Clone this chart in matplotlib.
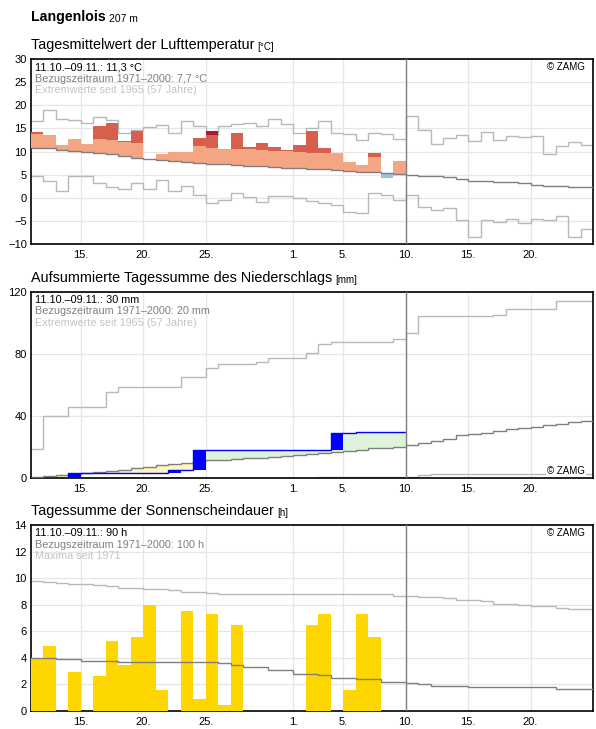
import numpy as np
import matplotlib.pyplot as plt

plt.rcParams['font.family'] = ['Liberation Sans', 'DejaVu Sans']

# x axis: day index, 0 = 11.10., 45 days shown, 30 days observed
n_obs = 30
n_all = 45
xtick_pos = [4, 9, 14, 21, 25, 30, 35, 40]
xtick_labels = ['15.', '20.', '25.', '1.', '5.', '10.', '15.', '20.']

# --- temperature (daily mean, degC) ---
temp_obs = [14.2, 13.6, 11.5, 12.7, 11.7, 15.5, 16.1, 12.3, 14.4, 8.4,
            9.4, 9.8, 9.9, 12.9, 14.4, 10.6, 14.0, 11.0, 11.9, 11.0,
            10.4, 11.5, 14.4, 10.8, 9.6, 7.8, 7.1, 9.6, 4.2, 8.0]
temp_norm_hi = [13.8, 13.8, 13.5, 13.3, 13.0, 12.7, 12.4, 12.1, 11.9, 11.7,
                11.5, 11.3, 11.2, 11.1, 10.8, 10.7, 10.6, 10.6, 10.4, 10.2,
                10.2, 10.0, 9.7, 9.6, 9.6, 9.3, 9.1, 8.9, 8.7, 8.5]
temp_mean = [10.7, 10.7, 10.4, 10.1, 9.9, 9.6, 9.4, 9.1, 8.7, 8.4,
             8.2, 7.9, 7.7, 7.5, 7.4, 7.4, 7.1, 6.9, 6.9, 6.6,
             6.4, 6.4, 6.2, 6.2, 6.0, 5.8, 5.6, 5.6, 5.4, 5.2,
             5.0, 4.8, 4.6, 4.4, 4.1, 3.7, 3.7, 3.5, 3.3, 3.1,
             2.8, 2.6, 2.6, 2.4, 2.3]
temp_max = [16.5, 18.9, 17.1, 16.9, 16.1, 17.4, 16.9, 13.9, 14.6, 15.3,
            15.8, 14.1, 16.5, 15.5, 13.6, 15.6, 16.0, 16.2, 15.6, 17.1,
            16.0, 13.9, 15.0, 16.5, 13.9, 13.7, 12.4, 14.1, 13.7, 12.6,
            17.7, 14.7, 11.7, 13.0, 13.6, 12.2, 14.2, 12.4, 13.4, 13.2,
            13.4, 9.5, 11.2, 12.1, 11.5]
temp_min = [4.6, 3.6, 1.5, 4.6, 4.6, 3.2, 2.4, 1.9, 3.2, 1.9,
            3.9, 1.5, 2.6, 0.5, -1.1, -0.4, 1.1, 0.1, -0.9, 0.4,
            0.4, 0.0, -0.6, -1.2, -1.6, -3.0, -3.4, 1.1, 0.5, -0.4,
            0.5, -2.1, -2.7, -2.3, -4.9, -8.5, -4.9, -5.3, -4.5, -5.5,
            -4.7, -4.9, -4.0, -8.5, -6.8]

# --- precipitation (mm) ---
precip_daily = [0, 0, 0, 3.1, 0, 0, 0, 0, 0, 0,
                0, 1.8, 0, 12.9, 0, 0, 0, 0, 0, 0,
                0, 0, 0, 0, 11.2, 0, 0.5, 0, 0, 0]
precip_mean = [0.6, 1.5, 2.2, 2.8, 3.4, 3.6, 4.7, 5.4, 6.2, 7.1,
               8.2, 9.0, 9.7, 10.8, 11.4, 11.8, 12.3, 12.7, 13.1, 13.5,
               14.2, 14.8, 15.7, 16.3, 16.8, 17.6, 18.3, 19.1, 19.6, 20.2,
               21.3, 22.6, 23.7, 25.4, 27.5, 28.2, 29.0, 30.3, 31.4, 32.0,
               32.9, 34.0, 35.1, 36.3, 37.0]
precip_max = [18.9, 40.2, 40.2, 46.0, 46.0, 46.0, 55.7, 58.9, 58.9, 58.9,
              58.9, 58.9, 65.4, 65.4, 71.2, 73.3, 73.3, 73.3, 75.1, 77.2,
              77.2, 77.2, 80.9, 86.7, 88.0, 88.0, 88.0, 88.0, 88.0, 89.9,
              93.8, 104.3, 104.3, 104.3, 104.3, 104.3, 104.3, 105.4, 109.2, 109.2,
              109.2, 109.2, 114.0, 114.0, 114.0]
precip_min = [0, 0, 0, 0, 0, 0, 0, 0, 0, 0,
              0, 0, 0, 0, 0, 0, 0, 0, 0, 0,
              0, 0, 0, 0.5, 0.5, 0.5, 0.5, 0.5, 0.5, 0.5,
              0.5, 2.2, 2.8, 2.8, 2.8, 2.8, 2.8, 2.8, 2.8, 2.8,
              2.8, 2.8, 2.8, 2.8, 2.8]

# --- sunshine (h) ---
sun_obs = [4.0, 4.9, 0, 2.9, 0, 2.6, 5.3, 3.5, 5.6, 8.0,
           1.6, 0, 7.5, 0.9, 7.3, 0.45, 6.5, 0, 0, 0,
           0, 0, 6.5, 7.3, 0, 1.6, 7.3, 5.6, 0, 0]
sun_mean = [3.96, 3.96, 3.9, 3.9, 3.75, 3.75, 3.75, 3.66, 3.66, 3.66,
            3.66, 3.66, 3.66, 3.66, 3.66, 3.6, 3.45, 3.3, 3.3, 3.1,
            3.05, 2.8, 2.75, 2.7, 2.5, 2.45, 2.4, 2.4, 2.2, 2.15,
            2.14, 2.01, 1.91, 1.91, 1.91, 1.81, 1.81, 1.81, 1.81, 1.81,
            1.81, 1.81, 1.66, 1.66, 1.66]
sun_max = [9.8, 9.73, 9.66, 9.53, 9.53, 9.46, 9.38, 9.23, 9.23, 9.16,
           9.16, 9.1, 8.98, 8.98, 8.86, 8.83, 8.83, 8.78, 8.78, 8.78,
           8.78, 8.78, 8.78, 8.78, 8.78, 8.78, 8.78, 8.78, 8.78, 8.65,
           8.65, 8.6, 8.6, 8.52, 8.37, 8.37, 8.27, 8.07, 8.07, 7.99,
           7.91, 7.91, 7.79, 7.69, 7.69]

C_MEAN = '#7f7f7f'
C_EXT = '#b8b8b8'

W, H = 596, 729
fig = plt.figure(figsize=(W / 100, H / 100), dpi=100)


def panel(top, bottom):
    return fig.add_axes([31 / W, 1 - bottom / H, 562 / W, (bottom - top) / H])


def style(ax, ylim, yticks):
    ax.set_xlim(0, n_all)
    ax.set_ylim(*ylim)
    ax.set_xticks(xtick_pos)
    ax.set_xticklabels(xtick_labels)
    ax.set_yticks(yticks)
    ax.tick_params(length=0, labelsize=8)
    ax.tick_params(axis='x', pad=4)
    ax.tick_params(axis='y', pad=3)
    ax.grid(color='#e6e6e6', lw=0.9)
    ax.set_axisbelow(True)
    for s in ax.spines.values():
        s.set_linewidth(1.2)
    ax.axvline(n_obs, color='#808080', lw=1.0, zorder=6)


def header(ax, title, unit, lines, zamg_top=True):
    t = ax.annotate(title, xy=(0, 1), xycoords='axes fraction', xytext=(0, 14),
                    textcoords='offset pixels', fontsize=10.4, va='center', ha='left')
    ax.annotate(unit, xy=(1, 0), xycoords=t, xytext=(3, 0),
                textcoords='offset pixels', fontsize=7, va='bottom', ha='left')
    for i, (txt, col) in enumerate(zip(lines, ['black', '#808080', '#c4c4c4'])):
        ax.annotate(txt, xy=(0, 1), xycoords='axes fraction', xytext=(4, -8 - 11.5 * i),
                    textcoords='offset pixels', fontsize=7.8, va='center', ha='left',
                    color=col, zorder=10)
    if zamg_top:
        ax.annotate('© ZAMG', xy=(1, 1), xycoords='axes fraction', xytext=(-8, -8),
                    textcoords='offset pixels', fontsize=7, va='center', ha='right')
    else:
        ax.annotate('© ZAMG', xy=(1, 0), xycoords='axes fraction', xytext=(-8, 7),
                    textcoords='offset pixels', fontsize=7, va='center', ha='right',
                    bbox=dict(facecolor='white', edgecolor='none', pad=1), zorder=10)


edges_all = np.arange(n_all + 1)
x = np.arange(n_obs)

# station title
t0 = fig.text(31 / W, 1 - 17 / H, 'Langenlois', fontsize=10.2, fontweight='bold', va='center')
ax0 = panel(59, 244)
ax0.annotate('207 m', xy=(1, 0), xycoords=t0, xytext=(3, 0), textcoords='offset pixels',
             fontsize=7.5, va='bottom', ha='left', annotation_clip=False)

# ---------------- temperature ----------------
style(ax0, (-10, 30), range(-10, 31, 5))
obs = np.array(temp_obs)
mn = np.array(temp_mean[:n_obs])
hi = np.array(temp_norm_hi)
mx = np.array(temp_max[:n_obs])
ax0.stairs(temp_max, edges_all, baseline=None, color=C_EXT, lw=1.0, zorder=2)
ax0.stairs(temp_min, edges_all, baseline=None, color=C_EXT, lw=1.0, zorder=2)
up = obs > mn
salmon_top = np.minimum(obs, hi)
ax0.bar(x, np.where(up, salmon_top - mn, 0), bottom=mn, width=1, align='edge',
        color='#f4a582', lw=0, zorder=3)
red_top = np.minimum(obs, np.maximum(mx, hi))
ax0.bar(x, np.where(obs > hi, red_top - hi, 0), bottom=hi, width=1, align='edge',
        color='#d6604d', lw=0, zorder=3)
ax0.bar(x, np.where(obs > mx, obs - mx, 0), bottom=mx, width=1, align='edge',
        color='#b2182b', lw=0, zorder=3)
ax0.bar(x, np.where(~up, mn - obs, 0), bottom=obs, width=1, align='edge',
        color='#92c5de', lw=0, zorder=3)
ax0.stairs(temp_mean, edges_all, baseline=None, color=C_MEAN, lw=1.0, zorder=4)
header(ax0, 'Tagesmittelwert der Lufttemperatur', '[°C]',
       ['11.10.–09.11.: 11,3 °C', 'Bezugszeitraum 1971–2000: 7,7 °C',
        'Extremwerte seit 1965 (57 Jahre)'])

# ---------------- precipitation ----------------
ax1 = panel(292, 478)
style(ax1, (0, 120), [0, 40, 80, 120])
daily = np.array(precip_daily)
cum = np.cumsum(daily)
pm = np.array(precip_mean[:n_obs])
ax1.bar(x, np.abs(cum - pm), bottom=np.minimum(cum, pm), width=1, align='edge',
        color=np.where(cum >= pm, '#dff2da', '#fff5bf'), lw=0, zorder=2)
ax1.stairs(precip_max, edges_all, baseline=None, color=C_EXT, lw=1.0, zorder=2)
ax1.stairs(precip_min, edges_all, baseline=None, color=C_EXT, lw=1.0, zorder=2)
ax1.stairs(precip_mean, edges_all, baseline=None, color=C_MEAN, lw=1.0, zorder=3)
ax1.bar(x, daily, bottom=cum - daily, width=1, align='edge', color='#0000ff', lw=0, zorder=4)
ax1.stairs(cum, np.arange(n_obs + 1), baseline=None, color='#0000ff', lw=1.0, zorder=4)
header(ax1, 'Aufsummierte Tagessumme des Niederschlags', '[mm]',
       ['11.10.–09.11.: 30 mm', 'Bezugszeitraum 1971–2000: 20 mm',
        'Extremwerte seit 1965 (57 Jahre)'], zamg_top=False)

# ---------------- sunshine ----------------
ax2 = panel(525, 711)
style(ax2, (0, 14), range(0, 15, 2))
ax2.bar(x, sun_obs, width=1, align='edge', color='#ffd700', lw=0, zorder=3)
ax2.stairs(sun_max, edges_all, baseline=None, color=C_EXT, lw=1.0, zorder=2)
ax2.stairs(sun_mean, edges_all, baseline=None, color=C_MEAN, lw=1.0, zorder=4)
header(ax2, 'Tagessumme der Sonnenscheindauer', '[h]',
       ['11.10.–09.11.: 90 h', 'Bezugszeitraum 1971–2000: 100 h', 'Maxima seit 1971'])

fig.savefig('out.png', dpi=100)
